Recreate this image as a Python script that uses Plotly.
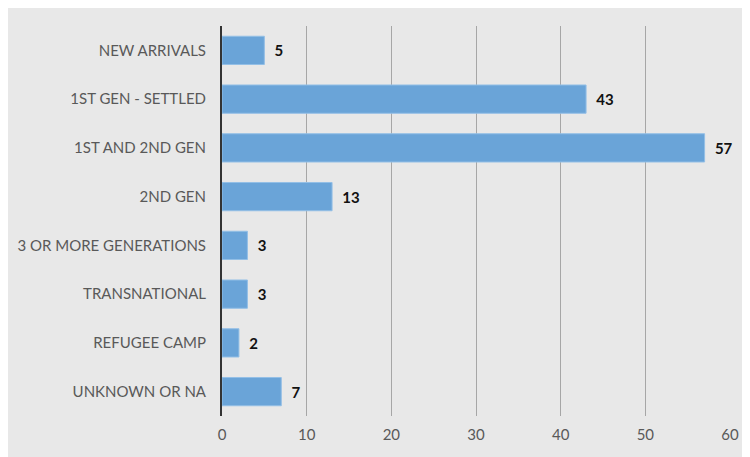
import plotly.graph_objects as go

categories = ["NEW ARRIVALS", "1ST GEN - SETTLED", "1ST AND 2ND GEN", "2ND GEN",
              "3 OR MORE GENERATIONS", "TRANSNATIONAL", "REFUGEE CAMP", "UNKNOWN OR NA"]
values = [5, 43, 57, 13, 3, 3, 2, 7]
x_ticks = [0, 10, 20, 30, 40, 50, 60]

fig = go.Figure(go.Bar(
    y=categories, x=values, orientation="h",
    marker=dict(color="#6aa4d8", line=dict(color="#93bfe6", width=1)),
    text=["\u00a0\u00a0" + str(v) for v in values], textposition="outside",
    textfont=dict(family="Lato", size=15, color="#111111", weight="bold"),
    cliponaxis=False,
))

# page body has an 8px margin; figure sized to fill the rest of the window
W, H = 742, 449
L, R, T, B = 214, 20, 18, 41

fig.update_layout(
    width=W, height=H,
    margin=dict(l=L, r=R, t=T, b=B, autoexpand=False),
    paper_bgcolor="#e8e8e8", plot_bgcolor="rgba(0,0,0,0)",
    bargap=0.42, showlegend=False,
)
fig.update_yaxes(autorange="reversed", automargin=False,
                 tickfont=dict(family="Lato", size=15, color="#595959"),
                 showline=True, linecolor="#333333", linewidth=2, ticks="",
                 ticklabelstandoff=11, showgrid=False)
fig.update_xaxes(range=[0, 60], tickvals=x_ticks, automargin=False,
                 showgrid=True, gridcolor="#a6a6a6", gridwidth=1,
                 zeroline=False, showline=False,
                 tickfont=dict(family="Lato", size=15, color="#595959"), ticklabelstandoff=8)

fig.write_html("out.html")
